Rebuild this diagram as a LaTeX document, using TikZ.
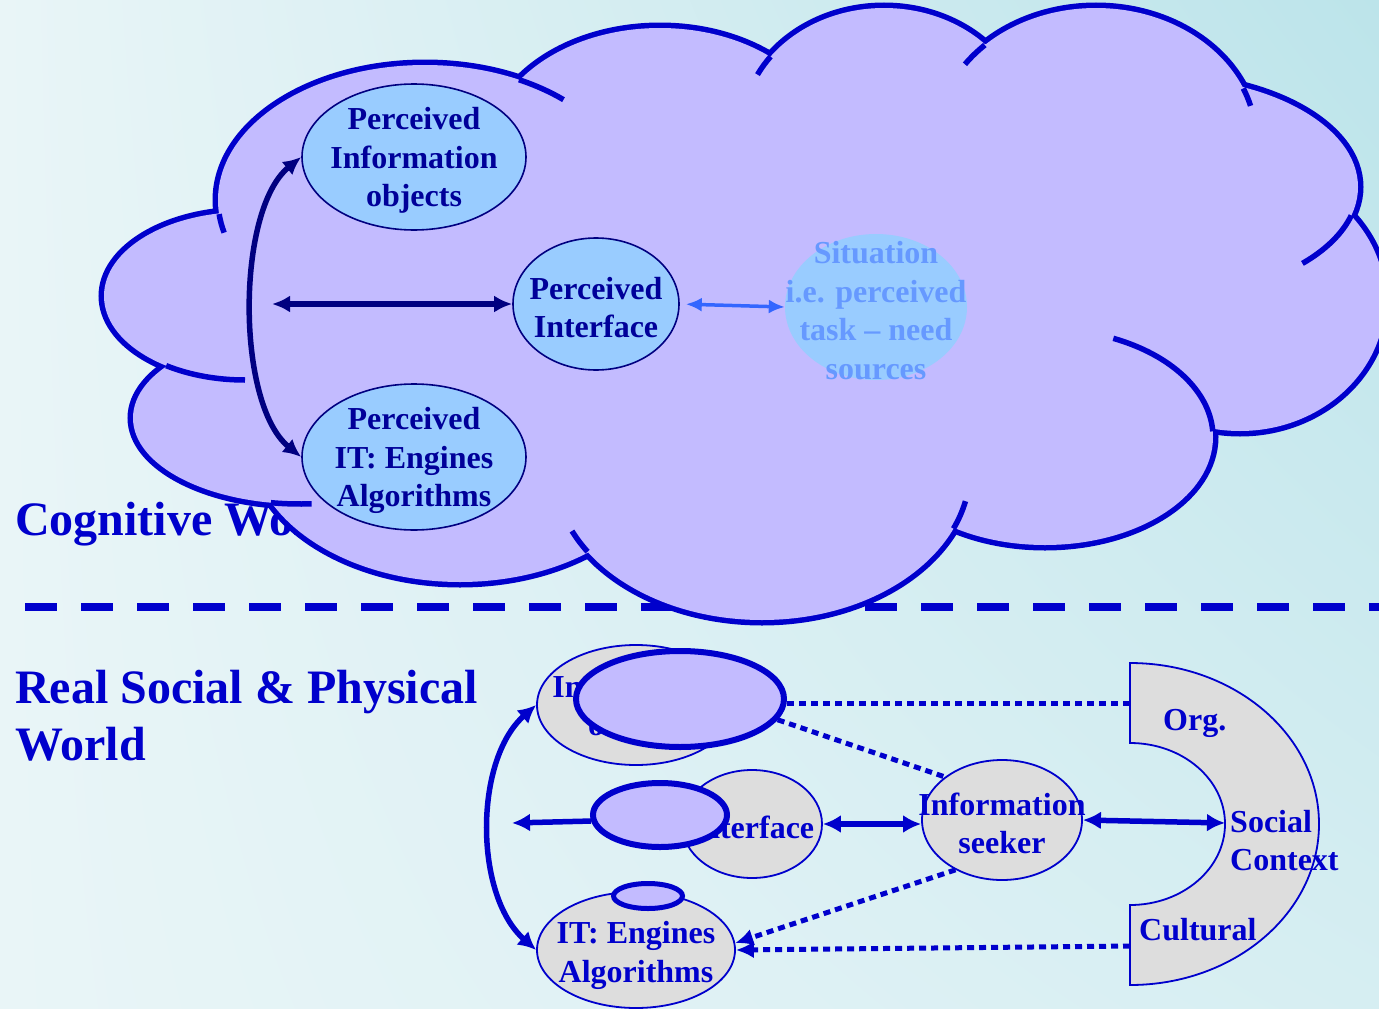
\documentclass[tikz,border=0pt]{standalone}
\usepackage{fontspec}
\setmainfont{Liberation Serif}
\usetikzlibrary{shapes.geometric}
\usetikzlibrary{arrows.meta}
\usetikzlibrary{shadings}
\definecolor{bg-pale}{RGB}{233, 245, 247}
\definecolor{bg-cyan}{RGB}{188, 228, 234}
\definecolor{bg-mid}{RGB}{214, 238, 242}
\definecolor{cloud-lavender}{RGB}{195, 187, 255}
\definecolor{cloud-blue}{RGB}{0, 0, 204}
\definecolor{perc-blue}{RGB}{153, 204, 255}
\definecolor{perc-navy}{RGB}{0, 0, 128}
\definecolor{perc-text}{RGB}{0, 0, 153}
\definecolor{sit-text}{RGB}{102, 153, 255}
\definecolor{sit-arrow}{RGB}{51, 102, 255}
\definecolor{real-grey}{RGB}{221, 221, 221}

\begin{document}
\begin{tikzpicture}[x=1pt, y=-1pt,
    txt/.style={font=\fontsize{32}{38.5}\selectfont\bfseries, align=center},
    lbl/.style={txt, yshift=-3.5pt},
    heading/.style={font=\fontsize{48}{57.6}\selectfont\bfseries, text=cloud-blue, anchor=base west, inner sep=0},
    perc/.style={ellipse, draw=perc-navy, line width=1.6, fill=perc-blue, inner sep=0},
    realgrey/.style={ellipse, draw=cloud-blue, line width=1.8, fill=real-grey, inner sep=0},
    reallav/.style={ellipse, draw=cloud-blue, line width=6, fill=cloud-lavender, inner sep=0},
    navyarrow/.style={perc-navy, line width=5.5, >={Latex[length=18pt,width=17pt]}, <->},
    sitarrow/.style={sit-arrow, line width=3.5, >={Latex[length=16pt,width=14pt]}, <->},
    realarrow/.style={cloud-blue, line width=5.5, >={Latex[length=18pt,width=18pt]}},
    dotline/.style={cloud-blue, line width=5, dash pattern=on 7pt off 5pt, >={Latex[length=18pt,width=17pt]}}]
\useasboundingbox (0,0) rectangle (1379,1009);
\clip (0,0) rectangle (1379,1009);
\shade[upper left=bg-pale, lower left=bg-pale, upper right=bg-cyan, lower right=bg-mid] (0,0) rectangle (1379,1009);

% titles and divider, behind the cloud
\node[heading] (cogw) at (15,535) {Cognitive World};
\node[heading] (realsp) at (15,703) {Real Social \& Physical};
\node[heading] (realw) at (15,760) {World};
\coordinate (dash-l) at (25,607);
\coordinate (dash-r) at (1379,607);
\draw[cloud-blue, line width=8, dash pattern=on 32pt off 24pt] (dash-l) -- (dash-r);

% cloud: lobes, then fill, then the short inner tails
\foreach \lx/\ly/\la/\lb in {245/296/141/84, 425/200/207/135, 660/150/171/122, 884/130/142/122,
    1096/140/160/132, 1160/187/198/110, 1240/300/145/131, 1045/437/168/108,
    762/470/208/150, 460/440/210/142, 300/418/167/86}
  \draw[cloud-blue, line width=11] (\lx,\ly) ellipse [x radius=\la, y radius=\lb];
\fill[cloud-lavender] (219,213) -- (520,80) -- (770,57) -- (985,44) -- (1243,87) -- (1350,215)
    -- (1212,431) -- (954,527) -- (588,552) -- (270,501) -- (166,365) -- cycle;
\foreach \lx/\ly/\la/\lb in {245/296/141/84, 425/200/207/135, 660/150/171/122, 884/130/142/122,
    1096/140/160/132, 1160/187/198/110, 1240/300/145/131, 1045/437/168/108,
    762/470/208/150, 460/440/210/142, 300/418/167/86}
  \fill[cloud-lavender] (\lx,\ly) ellipse [x radius=\la, y radius=\lb];
\foreach \lx/\ly/\la/\lb/\ta/\tb in {245/296/141/84/124/90, 425/200/207/135/174/166,
    425/200/207/135/-63/-48, 884/130/142/122/-143/-153, 1096/140/160/132/-134/-145,
    1096/140/160/132/-23/-15, 1160/187/198/110/15/44, 1045/437/168/108/-3/-66,
    762/470/208/150/147/156, 762/470/208/150/23/12, 300/418/167/86/100/86}
  \draw[cloud-blue, line width=5.5] ({\lx+\la*cos(\ta)}, {\ly+\lb*sin(\ta)})
    arc[start angle=\ta, end angle=\tb, x radius=\la, y radius=\lb];

% cognitive world
\node[perc, minimum width=224, minimum height=146,
  label={[lbl, text=perc-text]center:{Perceived\\Information\\objects}}] (pio) at (414,157) {};
\node[perc, minimum width=166, minimum height=132,
  label={[lbl, text=perc-text]center:{Perceived\\Interface}}] (pifc) at (596,304) {};
\node[perc, minimum width=224, minimum height=146,
  label={[lbl, text=perc-text]center:{Perceived\\IT: Engines\\Algorithms}}] (pit) at (414,457) {};
\node[ellipse, fill=perc-blue, inner sep=0, minimum width=182, minimum height=146,
  label={[lbl, text=sit-text]center:{Situation\\i.e. perceived\\task – need\\sources}}] (sit) at (876,307) {};
\coordinate (hfree) at (272,304);
\draw[navyarrow] (hfree) -- (pifc.west);
\draw[navyarrow] (pio.west) .. controls (236,210) and (236,404) .. (pit.west);
\draw[sitarrow, shorten <=6pt] (pifc.east) -- (sit.west);

% real social and physical world
\node[realgrey, minimum width=198, minimum height=120,
  label={[lbl, text=cloud-blue]center:{Information\\objects}}] (itobj) at (636,705) {};
\node[reallav, minimum width=208, minimum height=96] (lavobj) at (680,699) {};
\node[realgrey, minimum width=140, minimum height=108,
  label={[lbl, text=cloud-blue]center:{Interface}}] (ifc) at (752,824) {};
\node[reallav, minimum width=134, minimum height=64] (lavifc) at (660,815) {};
\node[realgrey, minimum width=160, minimum height=120,
  label={[lbl, text=cloud-blue]center:{Information\\seeker}}] (seek) at (1002,820) {};
\node[realgrey, minimum width=198, minimum height=116,
  label={[lbl, yshift=-2pt, text=cloud-blue]center:{IT: Engines\\Algorithms}}] (itg) at (636,950) {};
\node[reallav, line width=5, minimum width=69, minimum height=25] (lavit) at (648,896) {};

\filldraw[fill=real-grey, draw=cloud-blue, line width=1.8] (1130,663)
  arc[start angle=-90, end angle=90, x radius=189, y radius=161] -- (1130,905)
  arc[start angle=90, end angle=-90, x radius=95, y radius=81] -- cycle;
\node[txt, text=cloud-blue, anchor=base west, inner sep=0] (org) at (1163,730) {Org.};
\node[txt, text=cloud-blue, anchor=base west, inner sep=0] (social) at (1230,832) {Social};
\node[txt, text=cloud-blue, anchor=base west, inner sep=0] (context) at (1230,870) {Context};
\node[txt, text=cloud-blue, anchor=base west, inner sep=0] (cult) at (1139,940) {Cultural};

\coordinate (org-end) at (1130,703);
\coordinate (cult-end) at (1130,946);
\coordinate (soc-in) at (1225,823);
\coordinate (ifc-free) at (512,823);
\draw[dotline] (lavobj.east |- org-end) -- (org-end);
\draw[dotline] (lavobj.-12) -- (seek.143);
\draw[dotline, ->] (seek.227) -- (itg.4);
\draw[dotline, ->] (cult-end) -- (itg.east);
\draw[realarrow, ->] (lavifc.185) -- (ifc-free);
\draw[realarrow, <->] (ifc.east) -- (seek.west |- ifc.east);
\draw[realarrow, <->] (seek.east) -- (soc-in);
\draw[realarrow, <->] (itobj.west) .. controls (474,760) and (474,895) .. (itg.west);
\end{tikzpicture}
\end{document}
